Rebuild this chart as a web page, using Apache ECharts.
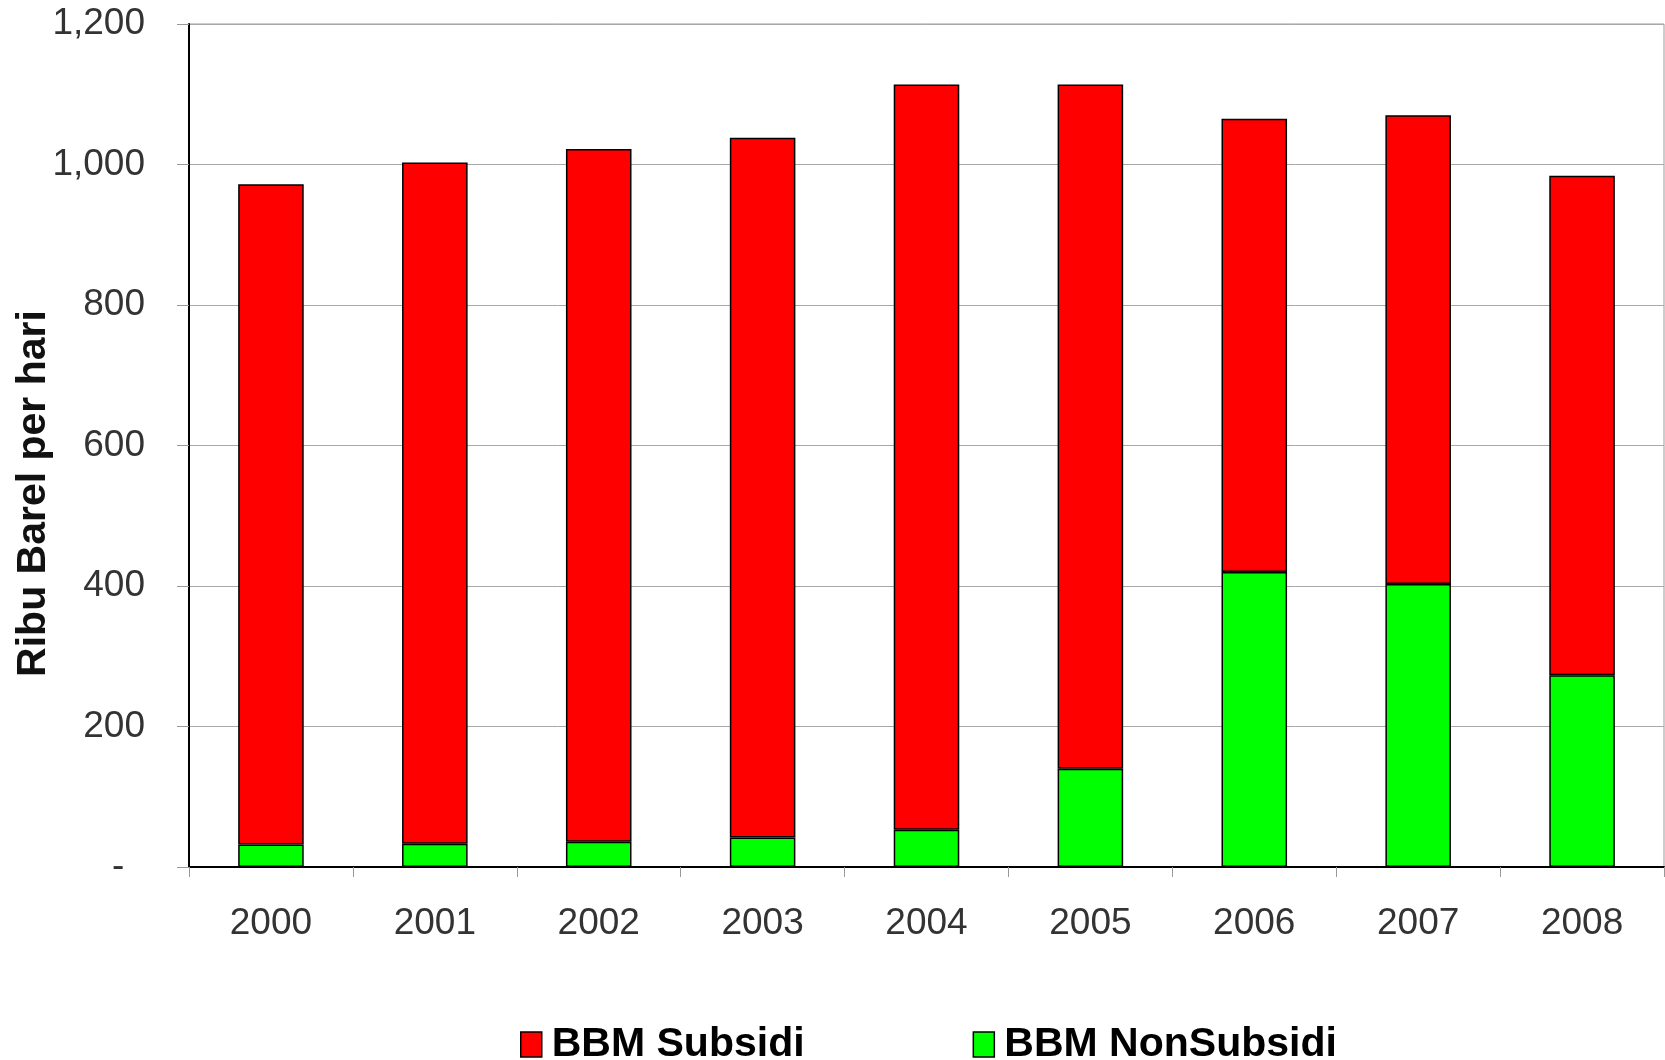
<!DOCTYPE html>
<html>
<head>
<meta charset="utf-8">
<script src="https://cdn.jsdelivr.net/npm/echarts@6/dist/echarts.min.js"></script>
<style>
  html, body { margin: 0; padding: 0; background: #fff; }
  #chart { width: 1665px; height: 1060px; }
</style>
</head>
<body>
<div id="chart"></div>
<script>
const years = ["2000", "2001", "2002", "2003", "2004", "2005", "2006", "2007", "2008"]
const nonSubsidi = [32, 33, 36, 42, 53, 140, 420, 403, 273]
const subsidi = [940, 970, 986, 996, 1061, 974, 645, 667, 711]

const chart = echarts.init(document.getElementById("chart"), null, { renderer: "canvas" })

const option = {
    animation: false,
    backgroundColor: "#fff",
    grid: {
        left: 189,
        top: 24,
        right: 1,
        bottom: 193,
        outerBoundsMode: "none",
        containLabel: false,
        show: true,
        borderColor: "#9a9a9a",
        borderWidth: 1,
    },
    legend: {
        left: 520,
        top: 1024,
        padding: 0,
        itemWidth: 21,
        itemHeight: 25,
        itemGap: 168,
        icon: "rect",
        data: ["BBM Subsidi", "BBM NonSubsidi"],
        itemStyle: { borderColor: "#000", borderWidth: 1.5 },
        textStyle: {
            fontFamily: "'Liberation Sans', Arial, sans-serif",
            fontWeight: "bold",
            fontSize: 41,
            color: "#000",
            padding: [0, 0, 0, 5],
        },
    },
    xAxis: {
        type: "category",
        data: years,
        axisLine: { lineStyle: { color: "#000", width: 2 } },
        axisTick: { show: true, length: 10, lineStyle: { color: "#999", width: 1 } },
        axisLabel: {
            margin: 38,
            fontFamily: "'Liberation Sans', Arial, sans-serif",
            fontSize: 37,
            color: "#333",
        },
    },
    yAxis: {
        type: "value",
        min: 0,
        max: 1200,
        interval: 200,
        name: "Ribu Barel per hari",
        nameLocation: "middle",
        nameMoveOverlap: false,
        nameGap: 135,
        nameRotate: 90,
        nameTextStyle: {
            fontFamily: "'Liberation Sans', Arial, sans-serif",
            fontWeight: "bold",
            fontSize: 41,
            color: "#111",
            padding: [0, 96, 0, 0],
        },
        axisLine: { show: true, lineStyle: { color: "#000", width: 2 } },
        axisTick: { show: true, length: 12, lineStyle: { color: "#999", width: 1 } },
        splitLine: { show: true, lineStyle: { color: "#a8a8a8", width: 1 } },
        axisLabel: {
            margin: 44,
            fontFamily: "'Liberation Sans', Arial, sans-serif",
            fontSize: 37,
            color: "#333",
            formatter: (v) => (v === 0 ? "-  " : v.toLocaleString("en-US")),
        },
    },
    series: [
        {
            name: "BBM NonSubsidi",
            type: "bar",
            stack: "total",
            data: nonSubsidi,
            barWidth: "40%",
            itemStyle: { color: "#00ff00", borderColor: "#000", borderWidth: 1.5 },
        },
        {
            name: "BBM Subsidi",
            type: "bar",
            stack: "total",
            data: subsidi,
            barWidth: "40%",
            itemStyle: { color: "#ff0000", borderColor: "#000", borderWidth: 1.5 },
        },
    ],
}

chart.setOption(option)
</script>
</body>
</html>
